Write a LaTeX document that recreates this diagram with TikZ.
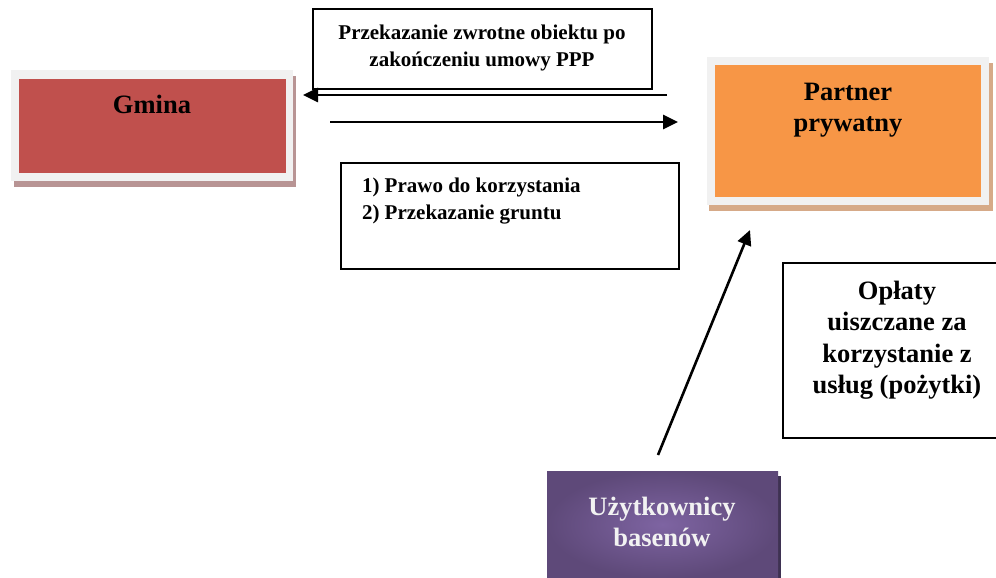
\documentclass[tikz,border=0pt]{standalone}
\usepackage{fontspec}
\setmainfont{Liberation Serif}
\usetikzlibrary{arrows.meta}
\definecolor{gred}{HTML}{C0504D}
\definecolor{porange}{HTML}{F79646}
\definecolor{framegrey}{HTML}{F1F1F1}
\definecolor{gshadow}{HTML}{B89494}
\definecolor{pshadow}{HTML}{D6AA88}
\definecolor{purin}{HTML}{7E64A2}
\definecolor{purout}{HTML}{5E4979}
\definecolor{purshadow}{HTML}{3E3252}
\definecolor{utext}{HTML}{F2F2F2}
\tikzset{
  plain/.style={inner sep=0pt, outer sep=0pt},
  framebox/.style={plain, fill=framegrey},
  linebox/.style={plain, draw=black, line width=2.2pt},
  bigtxt/.style={plain, font=\bfseries\fontsize{26.5}{31.5}\selectfont, align=center},
  smalltxt/.style={plain, font=\bfseries\fontsize{21}{26.5}\selectfont, align=center},
  arr/.style={line width=2.6pt, -{Triangle[length=15pt,width=14pt]}}
}
\begin{document}
\begin{tikzpicture}[x=1pt,y=-1pt]
\useasboundingbox (0,0) rectangle (996,578);
\fill[white] (0,0) rectangle (996,578);

% Gmina
\fill[gshadow] (14,76) rectangle (296,187);
\node[framebox, minimum width=282, minimum height=111] (gframe) at (152,125.5) {};
\node[plain, fill=gred, minimum width=267, minimum height=94] (gmina) at (152.5,126) {};
\node[bigtxt] (gminat) at (152,104) {Gmina};

% Partner prywatny
\fill[pshadow] (709,63) rectangle (993,211);
\node[framebox, minimum width=282, minimum height=148] (pframe) at (848,131) {};
\node[plain, fill=porange, minimum width=266, minimum height=132] (partner) at (848,131) {};
\node[bigtxt] (partnert) at (848,110) {Partner\\prywatny};

% Top text box
\node[linebox, minimum width=339, minimum height=80] (topbox) at (482.5,49) {};
\node[smalltxt] (topt) at (482,48) {Przekazanie zwrotne obiektu po\\zakończeniu umowy PPP};

% Lower text box
\node[linebox, minimum width=338, minimum height=106] (lowbox) at (510,216) {};
\node[smalltxt, align=left, anchor=west] (lowt) at (362,201) {1) Prawo do korzystania\\2) Przekazanie gruntu};

% Right text box (runs past the right edge)
\node[linebox, minimum width=230, minimum height=175, anchor=north west] (oplbox) at (783,263) {};
\node[bigtxt] (oplt) at (897,340) {Opłaty\\uiszczane za\\korzystanie z\\usług (pożytki)};

% Uzytkownicy basenow
\fill[purshadow] (775,476) rectangle (781,578);
\shade[inner color=purin, outer color=purout] (547,471) rectangle (778,578);
\node[plain, minimum width=231, minimum height=107] (users) at (662.5,524.5) {};
\node[bigtxt, text=utext] (userst) at (662,522) {Użytkownicy\\basenów};

% Arrows
\coordinate (la1) at (667,95);
\coordinate (la2) at (303,95);
\coordinate (ra1) at (330,122);
\coordinate (ra2) at (678,122);
\coordinate (ua1) at (658,455);
\coordinate (ua2) at (750,230);
\draw[arr] (la1) -- (la2);
\draw[arr] (ra1) -- (ra2);
\draw[arr] (ua1) -- (ua2);
\end{tikzpicture}
\end{document}
